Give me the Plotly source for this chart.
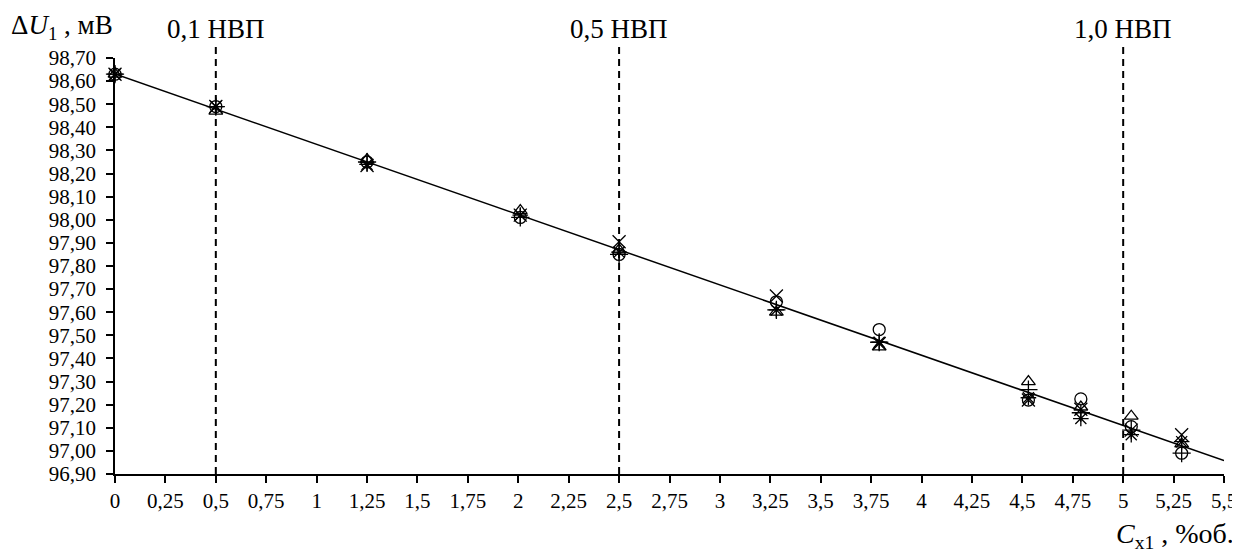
import numpy as np
import plotly.graph_objects as go

# concentration points (% об.)
conc = [0.0, 0.5, 1.25, 2.01, 2.5, 3.28, 3.79, 4.53, 4.79, 5.04, 5.29]

# five measurement series (мВ)
s_circle   = [98.63, 98.49, 98.25, 98.01, 97.85, 97.645, 97.525, 97.22, 97.225, 97.105, 96.99]
s_plus     = [98.63, 98.49, 98.25, 98.01, 97.85, 97.61, 97.47, 97.265, 97.165, 97.09, 96.99]
s_triangle = [98.63, 98.47, 98.26, 98.04, 97.87, 97.60, 97.45, 97.30, 97.19, 97.15, 97.03]
s_x        = [98.63, 98.49, 98.235, 98.02, 97.905, 97.67, 97.465, 97.22, 97.18, 97.09, 97.07]
s_star     = [98.63, 98.49, 98.24, 98.02, 97.86, 97.61, 97.47, 97.23, 97.14, 97.07, 97.04]

# reference lines (НВП levels)
nvp_x = [0.5, 2.5, 5.0]
nvp_labels = ["0,1 НВП", "0,5 НВП", "1,0 НВП"]

x_tickvals = [0, 0.25, 0.5, 0.75, 1, 1.25, 1.5, 1.75, 2, 2.25, 2.5, 2.75,
              3, 3.25, 3.5, 3.75, 4, 4.25, 4.5, 4.75, 5, 5.25, 5.5]
x_ticktext = ["0", "0,25", "0,5", "0,75", "1", "1,25", "1,5", "1,75", "2", "2,25", "2,5", "2,75",
              "3", "3,25", "3,5", "3,75", "4", "4,25", "4,5", "4,75", "5", "5,25", "5,5"]
y_tickvals = [96.9, 97.0, 97.1, 97.2, 97.3, 97.4, 97.5, 97.6, 97.7, 97.8, 97.9,
              98.0, 98.1, 98.2, 98.3, 98.4, 98.5, 98.6, 98.7]
y_ticktext = ["96,90", "97,00", "97,10", "97,20", "97,30", "97,40", "97,50", "97,60", "97,70",
              "97,80", "97,90", "98,00", "98,10", "98,20", "98,30", "98,40", "98,50", "98,60", "98,70"]

FONT = "Liberation Serif, Times New Roman, serif"

W, H = 1232, 546
ML, MR, MT, MB = 107, 16, 50, 80
PW, PH = W - ML - MR, H - MT - MB


def px_to_paper_x(px):
    return (px - 8 - ML) / PW


def px_to_paper_y(py):
    return (H - MB - (py - 8)) / PH


fig = go.Figure()

# linear trend through all measurements
all_x = np.tile(conc, 5)
all_y = np.concatenate([s_circle, s_plus, s_triangle, s_x, s_star])
k, b = np.polyfit(all_x, all_y, 1)
trend_x = [0.0, 5.5]
trend_y = [b + k * t for t in trend_x]
fig.add_trace(go.Scatter(x=trend_x, y=trend_y, mode="lines",
                         line=dict(color="black", width=1.5), showlegend=False))

series = [
    (s_circle, "circle-open", 12),
    (s_plus, "cross-thin-open", 13),
    (s_triangle, "triangle-up-open", 12),
    (s_x, "x-thin-open", 13),
    (s_star, "asterisk-open", 13),
]
for vals, sym, sz in series:
    fig.add_trace(go.Scatter(x=conc, y=vals, mode="markers",
                             marker=dict(symbol=sym, size=sz, color="black",
                                         line=dict(color="black", width=1.3)),
                             showlegend=False, cliponaxis=False))

for xv, lab in zip(nvp_x, nvp_labels):
    fig.add_shape(type="line", xref="x", yref="paper", x0=xv, x1=xv, y0=0, y1=px_to_paper_y(46),
                  line=dict(color="black", width=2, dash="7px,5px"))
    fig.add_annotation(x=xv, xref="x", y=px_to_paper_y(29), yref="paper", text=lab, showarrow=False,
                       yanchor="middle", xanchor="center",
                       font=dict(family=FONT, size=27, color="black"))

fig.add_annotation(x=px_to_paper_x(9), xref="paper", y=px_to_paper_y(27), yref="paper",
                   text="Δ<i>U</i><sub>1</sub> , мВ",
                   showarrow=False, xanchor="left", yanchor="middle",
                   font=dict(family=FONT, size=27, color="black"))
fig.add_annotation(x=px_to_paper_x(1236), xref="paper", y=px_to_paper_y(535), yref="paper",
                   text="<i>C</i><sub>x1</sub> , %об.",
                   showarrow=False, xanchor="right", yanchor="middle",
                   font=dict(family=FONT, size=28, color="black"))

fig.update_xaxes(range=[0, 5.5], tickvals=x_tickvals, ticktext=x_ticktext, automargin=False,
                 showgrid=False, zeroline=False, showline=True, linecolor="black", linewidth=1.5,
                 ticks="outside", ticklen=7, tickwidth=1.5, tickcolor="black",
                 tickfont=dict(family=FONT, size=21, color="black"))
fig.update_yaxes(range=[96.9, 98.7], tickvals=y_tickvals, ticktext=y_ticktext, automargin=False,
                 showgrid=False, zeroline=False, showline=True, linecolor="black", linewidth=1.5,
                 ticks="outside", ticklen=7, tickwidth=1.5, tickcolor="black", ticklabelstandoff=6,
                 tickfont=dict(family=FONT, size=21, color="black"))

fig.update_layout(width=W, height=H, plot_bgcolor="white", paper_bgcolor="white",
                  margin=dict(l=ML, r=MR, t=MT, b=MB), showlegend=False)

fig.write_html("out.html")
